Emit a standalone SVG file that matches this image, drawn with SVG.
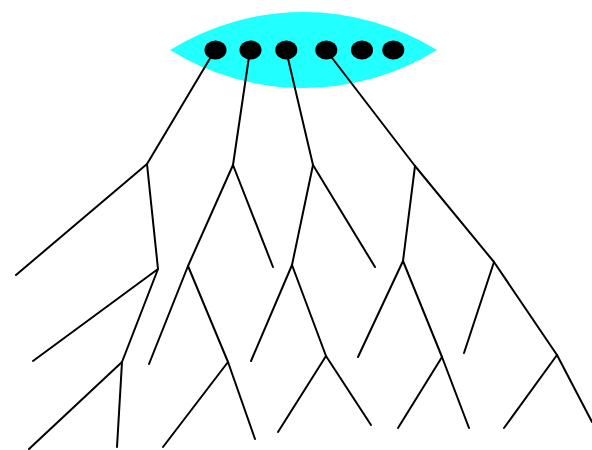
<svg xmlns="http://www.w3.org/2000/svg" width="592" height="450" viewBox="0 0 592 450">
<style>
.lens{fill:#22ffff;stroke:none}
.dot{fill:#000}
.edge{fill:none;stroke:#000;stroke-width:2;stroke-linecap:round;stroke-linejoin:round}
</style>
<rect width="592" height="450" fill="#fff"/>
<g id="lens"><path class="lens" d="M170,50 A253.5,253.5 0 0 1 437,50 A253.5,253.5 0 0 1 170,50 Z"/></g>
<g id="connectors">
<polyline class="edge" points="215,50 147,164 16,275"/>
<polyline class="edge" points="147,164 158,269 33,361"/>
<polyline class="edge" points="158,269 122,362 29,449"/>
<polyline class="edge" points="122,362 117,447"/>
<polyline class="edge" points="250,50 233,165 273,267"/>
<polyline class="edge" points="233,165 188,266 149,364"/>
<polyline class="edge" points="188,266 228,362 163,447"/>
<polyline class="edge" points="228,362 255,439"/>
<polyline class="edge" points="286,50 313,165 375,267"/>
<polyline class="edge" points="313,165 292,265 251,361"/>
<polyline class="edge" points="292,265 326,356 278,432"/>
<polyline class="edge" points="326,356 371,425"/>
<polyline class="edge" points="326,50 415,166 494,262 557,355 592,422"/>
<polyline class="edge" points="415,166 403,261 358,357"/>
<polyline class="edge" points="403,261 442,357 398,428"/>
<polyline class="edge" points="442,357 469,428"/>
<polyline class="edge" points="494,262 464,353"/>
<polyline class="edge" points="557,355 504,428"/>
</g>
<g id="n1"><ellipse class="dot" cx="215.5" cy="50" rx="11" ry="9.5"/></g>
<g id="n2"><ellipse class="dot" cx="250.5" cy="50" rx="11" ry="9.5"/></g>
<g id="n3"><ellipse class="dot" cx="286.3" cy="50" rx="11" ry="9.5"/></g>
<g id="n4"><ellipse class="dot" cx="326.3" cy="50" rx="11" ry="9.5"/></g>
<g id="n5"><ellipse class="dot" cx="362" cy="50" rx="11" ry="9.5"/></g>
<g id="n6"><ellipse class="dot" cx="393.3" cy="50" rx="11" ry="9.5"/></g>
</svg>
